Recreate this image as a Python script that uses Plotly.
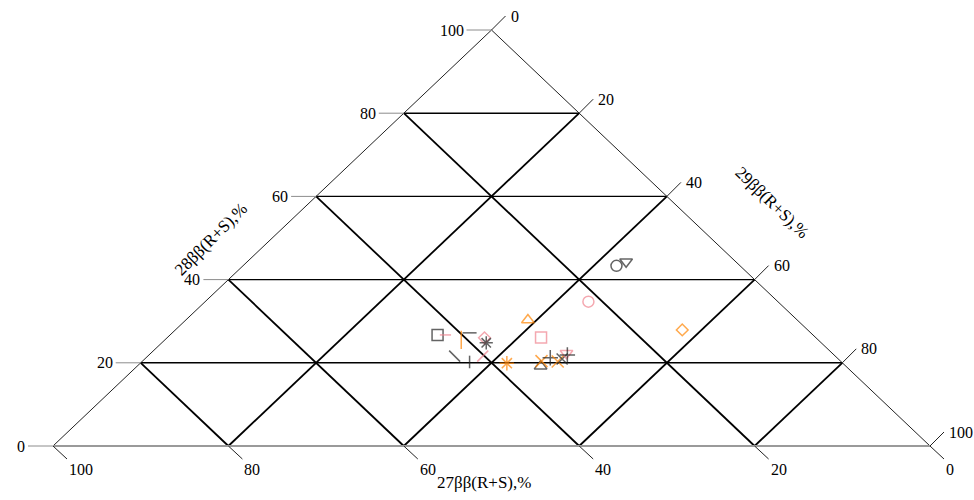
import plotly.graph_objects as go

# Ternary composition of samples (percent): C27, C28, C29 steranes
c27 = [42.8, 41.9, 38.9, 40.7, 37.8, 38.2, 40.2, 43.4, 42.4, 38.3, 30.7, 31.3,
       34.8, 34.1, 32.7, 32.3, 31.5, 30.3, 30.4, 14.1, 12.5, 21.6, 14.3]
c28 = [26.7, 26.7, 27.2, 25.5, 26.0, 24.8, 21.6, 21.6, 20.2, 19.9, 30.3, 26.1,
       19.2, 20.4, 21.2, 20.3, 20.9, 22.3, 21.9, 43.3, 44.3, 34.7, 27.9]
c29 = [30.5, 31.4, 33.9, 33.8, 36.2, 37.0, 38.2, 35.0, 37.4, 41.8, 39.0, 42.6,
       46.0, 45.5, 46.1, 47.4, 47.6, 47.4, 47.7, 42.6, 43.2, 43.7, 57.8]

tick_values = [0, 20, 40, 60, 80, 100]
grid_values = [20, 40, 60, 80]
title_bottom = "27ββ(R+S),%"
title_left = "28ββ(R+S),%"
title_right = "29ββ(R+S),%"

# marker styles per sample
BLK, PNK, ORG = "#222222", "#f0838f", "#ff8400"
symbols = ["square-open", "line-ew", "line-ew", "line-ns", "diamond-open", "asterisk",
           "line-ne", "line-nw", "line-ns", "asterisk", "triangle-up-open", "square-open",
           "triangle-up-open", "x-thin", "cross-thin", "x-thin", "x-thin", "triangle-down-open",
           "cross-thin", "circle-open", "triangle-down-open", "circle-open", "diamond-open"]
colors = [BLK, PNK, BLK, ORG, PNK, BLK, PNK, BLK, BLK, ORG, ORG, PNK,
          BLK, ORG, BLK, ORG, BLK, PNK, BLK, BLK, BLK, PNK, ORG]
sizes = [11, 8, 10, 13, 9, 11, 11, 11, 9, 12, 11, 11,
         11, 12, 11, 12, 11, 11, 11, 11, 11, 11, 9]


def tern(a, b, c):
    """Map a (C27, bottom-left), b (C28, top), c (C29, bottom-right) to plane coords."""
    s = a + b + c
    b, c = 100 * b / s, 100 * c / s
    return c + b / 2, b


# pixel scale of the plane units (x: 8.77 px/unit, y: 4.16 px/unit)
PX_X, PX_Y = 8.77, 4.16

fig = go.Figure()


def seg(p0, p1, color="#000", width=1.0):
    fig.add_trace(go.Scatter(x=[p0[0], p1[0]], y=[p0[1], p1[1]], mode="lines",
                             line=dict(color=color, width=width),
                             hoverinfo="skip", showlegend=False))


# grid lines
for v in grid_values:
    seg(tern(100 - v, v, 0), tern(0, v, 100 - v), "#000", 1.4)          # constant C28
    seg(tern(v, 100 - v, 0), tern(v, 0, 100 - v), "#000", 1.8)          # constant C27
    seg(tern(100 - v, 0, v), tern(0, 100 - v, v), "#000", 1.8)          # constant C29

# triangle edges
seg(tern(100, 0, 0), tern(0, 100, 0), "#222", 1.0)
seg(tern(0, 100, 0), tern(0, 0, 100), "#222", 1.0)
seg(tern(100, 0, 0), tern(0, 0, 100), "#9a9a9a", 1.8)

font = dict(family="Liberation Serif, Times New Roman, serif", size=16, color="#000")
annotations = []

for v in tick_values:
    # left axis (C28): horizontal ticks
    x0, y0 = tern(100 - v, v, 0)
    x1, y1 = x0 - 25 / PX_X, y0
    seg((x0, y0), (x1, y1), "#8c8c8c", 1.0)
    annotations.append(dict(x=x1, y=y1, text=str(v), showarrow=False, font=font,
                            xanchor="right", yanchor="middle", xshift=-1))
    # right axis (C29): ticks pointing up-right
    x0, y0 = tern(0, 100 - v, v)
    x1, y1 = x0 + 14 / PX_X, y0 + 14 / PX_Y
    seg((x0, y0), (x1, y1), "#222", 1.0)
    annotations.append(dict(x=x1, y=y1, text=str(v), showarrow=False, font=font,
                            xanchor="left", yanchor="middle", xshift=3))
    # bottom axis (C27): ticks pointing down-right
    x0, y0 = tern(v, 0, 100 - v)
    x1, y1 = x0 + 14 / PX_X, y0 - 13 / PX_Y
    seg((x0, y0), (x1, y1), "#222", 1.0)
    annotations.append(dict(x=x1, y=y1, text=str(v), showarrow=False, font=font,
                            xanchor="left", yanchor="middle", xshift=0, yshift=-10))

# axis titles
tfont = dict(family="Liberation Serif, Times New Roman, serif", size=17, color="#000")
annotations.append(dict(x=49.1, y=-8.7, text=title_bottom, showarrow=False, font=tfont))
annotations.append(dict(x=18.0, y=49.6, text=title_left, showarrow=False, font=tfont,
                        textangle=-45))
annotations.append(dict(x=82.0, y=58.6, text=title_right, showarrow=False, font=tfont,
                        textangle=44))

# samples
xs, ys = zip(*[tern(a, b, c) for a, b, c in zip(c27, c28, c29)])
fig.add_trace(go.Scatter(
    x=list(xs), y=list(ys), mode="markers",
    marker=dict(symbol=symbols, size=sizes, color=colors,
                line=dict(color=colors, width=1.5)),
    showlegend=False,
    customdata=list(zip(c27, c28, c29)),
    hovertemplate="C27 %{customdata[0]}%<br>C28 %{customdata[1]}%<br>C29 %{customdata[2]}%<extra></extra>",
))

fig.update_layout(
    width=974, height=500,
    margin=dict(l=0, r=0, t=0, b=0),
    paper_bgcolor="white", plot_bgcolor="white",
    xaxis=dict(range=[-53 / PX_X, 921 / PX_X], visible=False, fixedrange=True),
    yaxis=dict(range=[-54 / PX_Y, 446 / PX_Y], visible=False, fixedrange=True),
    annotations=annotations,
    showlegend=False,
)

fig.write_html("out.html")
